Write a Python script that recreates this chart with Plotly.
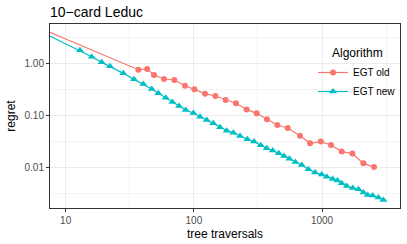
import plotly.graph_objects as go

# EGT old (first point lies left of the visible range, only its line segment shows)
old_x = [5, 36.9, 43.2, 48.9, 58.5, 70.4, 85.3, 100.9, 122.2, 147.2, 177, 213, 258, 309,
         372, 448, 540, 673, 806, 977, 1175, 1423, 1725, 2100, 2545]
old_y = [6.22, 0.766, 0.789, 0.604, 0.506, 0.484, 0.376, 0.320, 0.264, 0.238, 0.199, 0.172,
         0.131, 0.110, 0.0844, 0.0656, 0.0574, 0.0408, 0.0290, 0.0313, 0.0270, 0.0201,
         0.0184, 0.0119, 0.0101]

# EGT new
new_x = [5, 12.94, 15.95, 19.10, 22.18, 28.18, 34.14, 40.36, 46.88, 52.84, 60.29, 67.98,
         76.61, 86.37, 99.1, 111.7, 125.9, 141.9, 160.0, 180.4, 203.4, 229.3, 261.5, 294.8,
         332.3, 370.1, 412.2, 459.1, 505.2, 556.1, 619.4, 694.0, 782.3, 881.9, 994.0, 1087.5,
         1211, 1317, 1424, 1558, 1735, 1921, 2101, 2272, 2485, 2751, 3010]
new_y = [5.60, 1.808, 1.365, 1.061, 0.888, 0.651, 0.498, 0.405, 0.3245, 0.2677, 0.2208,
         0.1822, 0.1525, 0.1277, 0.1117, 0.0950, 0.0819, 0.0706, 0.0591, 0.0510, 0.0466,
         0.0402, 0.0347, 0.0313, 0.0266, 0.0233, 0.0210, 0.0186, 0.01654, 0.01469, 0.01268,
         0.01109, 0.00915, 0.00789, 0.00722, 0.00660, 0.00595, 0.00553, 0.00491, 0.00436,
         0.00399, 0.00376, 0.00325, 0.00292, 0.00284, 0.00260, 0.00234]

x_ticks = [10, 100, 1000]
x_tick_labels = ["10", "100", "1000"]
y_ticks = [0.01, 0.1, 1]
y_tick_labels = ["0.01", "0.10", "1.00"]
x_minor = [31.62, 316.2, 3162]
y_minor = [0.003162, 0.03162, 0.3162, 3.162]

FONT = "Liberation Sans, Arial, Helvetica, sans-serif"
RED = "#F8766D"
TEAL = "#00BFC4"

W, H = 407, 244
L, R, T, B = 50, 7, 24, 36
PW, PH = W - L - R, H - T - B


def px(x):
    return (x - L) / PW


def py(y):
    return (H - B - y) / PH


fig = go.Figure()
fig.add_trace(go.Scatter(x=old_x, y=old_y, mode="lines+markers", name="EGT old",
                         line=dict(color=RED, width=1.2),
                         marker=dict(color=RED, size=6, symbol="circle")))
fig.add_trace(go.Scatter(x=new_x, y=new_y, mode="lines+markers", name="EGT new",
                         line=dict(color=TEAL, width=1.2),
                         marker=dict(color=TEAL, size=7, symbol="triangle-up")))

axis_common = dict(
    type="log", showgrid=True, gridcolor="#EBEBEB", gridwidth=1.1,
    zeroline=False, showline=True, linecolor="#333333", linewidth=1, mirror=True,
    ticks="outside", ticklen=3, tickcolor="#333333", tickwidth=1,
    tickfont=dict(family=FONT, size=10, color="#4D4D4D"),
)

fig.update_xaxes(**axis_common, range=[0.878, 3.608], tickvals=x_ticks, ticktext=x_tick_labels,
                 minor=dict(tickvals=x_minor, showgrid=True, gridcolor="#F4F4F4", gridwidth=0.6, ticks=""),
                 title=dict(text="tree traversals", font=dict(family=FONT, size=12, color="black"),
                            standoff=4))
fig.update_yaxes(**axis_common, range=[-2.786, 0.766], tickvals=y_ticks, ticktext=y_tick_labels,
                 minor=dict(tickvals=y_minor, showgrid=True, gridcolor="#F4F4F4", gridwidth=0.6, ticks=""),
                 title=dict(text="regret", font=dict(family=FONT, size=12, color="black"),
                            standoff=6))

# legend background box (covers grid, under the data)
fig.add_shape(type="rect", xref="paper", yref="paper", layer="between",
              x0=px(327), x1=px(397), y0=py(101), y1=py(40),
              fillcolor="white", line=dict(width=0))

fig.add_annotation(text="Algorithm", xref="paper", yref="paper", x=px(330), y=py(53),
                   xanchor="left", yanchor="middle", showarrow=False,
                   font=dict(family=FONT, size=12, color="black"))

fig.update_layout(
    width=W, height=H,
    margin=dict(l=L, r=R, t=T, b=B, autoexpand=False),
    paper_bgcolor="white", plot_bgcolor="white",
    font=dict(family=FONT),
    hovermode=False,
    title=dict(text="10\u2212card Leduc", x=L / W, xanchor="left", y=1 - 12 / H,
               yanchor="middle", font=dict(family=FONT, size=14, color="black")),
    legend=dict(
        x=px(313), y=py(58), xanchor="left", yanchor="top",
        bgcolor="rgba(0,0,0,0)", borderwidth=0,
        font=dict(family=FONT, size=10, color="black"),
        itemwidth=30, tracegroupgap=0,
    ),
    showlegend=True,
)

fig.write_html("out.html", config={"displayModeBar": False},
               post_script="document.body.style.margin='0px';")
